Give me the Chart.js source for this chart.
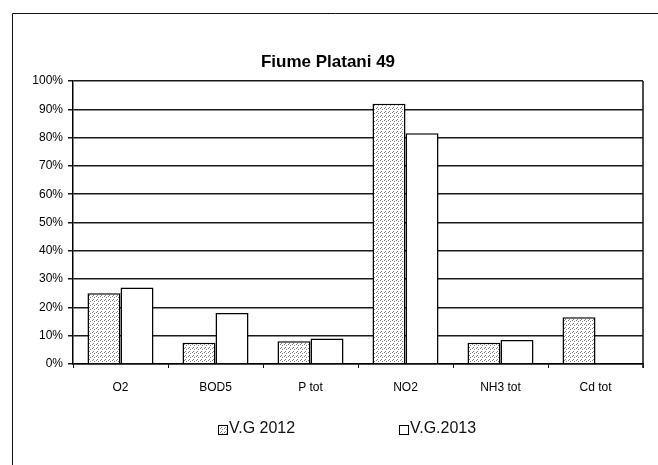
<!DOCTYPE html>
<html>
<head>
<meta charset="utf-8">
<script src="https://cdn.jsdelivr.net/npm/chart.js@4"></script>
<style>
  html, body { margin: 0; padding: 0; background: #fff; }
  #wrap { width: 658px; height: 465px; }
</style>
</head>
<body>
<div id="wrap"><canvas id="c" width="658" height="465"></canvas></div>
<script>
// Parameters measured at the station
const categories = ['O2', 'BOD5', 'P tot', 'NO2', 'NH3 tot', 'Cd tot'];
const seriesNames = ['V.G 2012', 'V.G.2013'];
const vg2012 = [25, 7.5, 8, 92, 7.5, 16.5];
const vg2013 = [27, 18, 9, 81.5, 8.5, 0];
const yTickValues = [0, 10, 20, 30, 40, 50, 60, 70, 80, 90, 100];
const chartTitle = 'Fiume Platani 49';

const FONT = '"Liberation Sans", Arial, sans-serif';
const canvas = document.getElementById('c');
const ctx = canvas.getContext('2d');

// Sparse grey dot fill used for the first series
function makeStipple() {
  const p = document.createElement('canvas');
  p.width = 4; p.height = 4;
  const g = p.getContext('2d');
  g.fillStyle = '#fff';
  g.fillRect(0, 0, 4, 4);
  g.fillStyle = '#858585';
  g.fillRect(0, 0, 1, 1);
  g.fillRect(2, 1, 1, 1);
  g.fillRect(1, 3, 1, 1);
  return ctx.createPattern(p, 'repeat');
}
const stipple = makeStipple();
const fills = [stipple, '#ffffff'];

// Outer frame, plot border, title and legend
const decorations = {
  id: 'decorations',
  beforeDraw(chart) {
    const c = chart.ctx;
    c.save();
    c.fillStyle = '#fff';
    c.fillRect(0, 0, chart.width, chart.height);
    c.strokeStyle = '#111';
    c.lineWidth = 1;
    c.beginPath();
    c.moveTo(12.5, chart.height);
    c.lineTo(12.5, 13.5);
    c.lineTo(chart.width, 13.5);
    c.stroke();
    c.restore();
  },
  afterDraw(chart) {
    const c = chart.ctx;
    const a = chart.chartArea;
    c.save();
    // right edge of the plot area
    c.strokeStyle = '#111';
    c.lineWidth = 1.5;
    c.beginPath();
    c.moveTo(a.right, a.top);
    c.lineTo(a.right, a.bottom + 4);
    c.stroke();

    // title
    c.fillStyle = '#000';
    c.font = 'bold 17px ' + FONT;
    c.textAlign = 'center';
    c.textBaseline = 'middle';
    c.fillText(chartTitle, 328, 62);

    // legend
    c.font = '16px ' + FONT;
    c.textAlign = 'left';
    const xs = [218, 399];
    const y = 429;
    chart.data.datasets.forEach((ds, i) => {
      c.fillStyle = ds.backgroundColor;
      c.fillRect(xs[i], y - 4, 9, 9);
      c.strokeStyle = '#000';
      c.lineWidth = 1;
      c.strokeRect(xs[i] + 0.5, y - 3.5, 9, 9);
      c.fillStyle = '#111';
      c.fillText(ds.label, xs[i] + 11, y);
    });
    c.restore();
  }
};

new Chart(canvas, {
  type: 'bar',
  data: {
    labels: categories,
    datasets: [
      {
        label: seriesNames[0],
        data: vg2012,
        backgroundColor: fills[0],
        borderColor: '#000',
        borderWidth: 1.5,
        categoryPercentage: 0.695,
        barPercentage: 1.0
      },
      {
        label: seriesNames[1],
        data: vg2013,
        backgroundColor: fills[1],
        borderColor: '#000',
        borderWidth: 1.5,
        categoryPercentage: 0.695,
        barPercentage: 1.0
      }
    ]
  },
  options: {
    responsive: false,
    animation: false,
    devicePixelRatio: 1,
    layout: { padding: { left: 12, right: 15, top: 81, bottom: 0 } },
    plugins: {
      legend: { display: false },
      title: { display: false },
      tooltip: { enabled: false }
    },
    scales: {
      x: {
        offset: true,
        grid: {
          offset: true,
          drawOnChartArea: false,
          drawTicks: true,
          tickLength: 4,
          color: '#111',
          lineWidth: 1
        },
        border: { display: true, color: '#000', width: 1.5 },
        ticks: {
          color: '#000',
          font: { family: FONT, size: 12 },
          padding: 12,
          maxRotation: 0
        },
        afterFit(scale) { scale.height = 101; }
      },
      y: {
        min: 0,
        max: 100,
        afterBuildTicks(scale) {
          scale.ticks = yTickValues.map(v => ({ value: v }));
        },
        grid: {
          color: '#1a1a1a',
          lineWidth: 1.5,
          drawTicks: true,
          tickLength: 5
        },
        border: { display: true, color: '#000', width: 1.5 },
        ticks: {
          color: '#000',
          font: { family: FONT, size: 12 },
          padding: 5,
          callback: v => v + '%'
        },
        afterFit(scale) { scale.width = 61; }
      }
    }
  },
  plugins: [decorations]
});
</script>
</body>
</html>
